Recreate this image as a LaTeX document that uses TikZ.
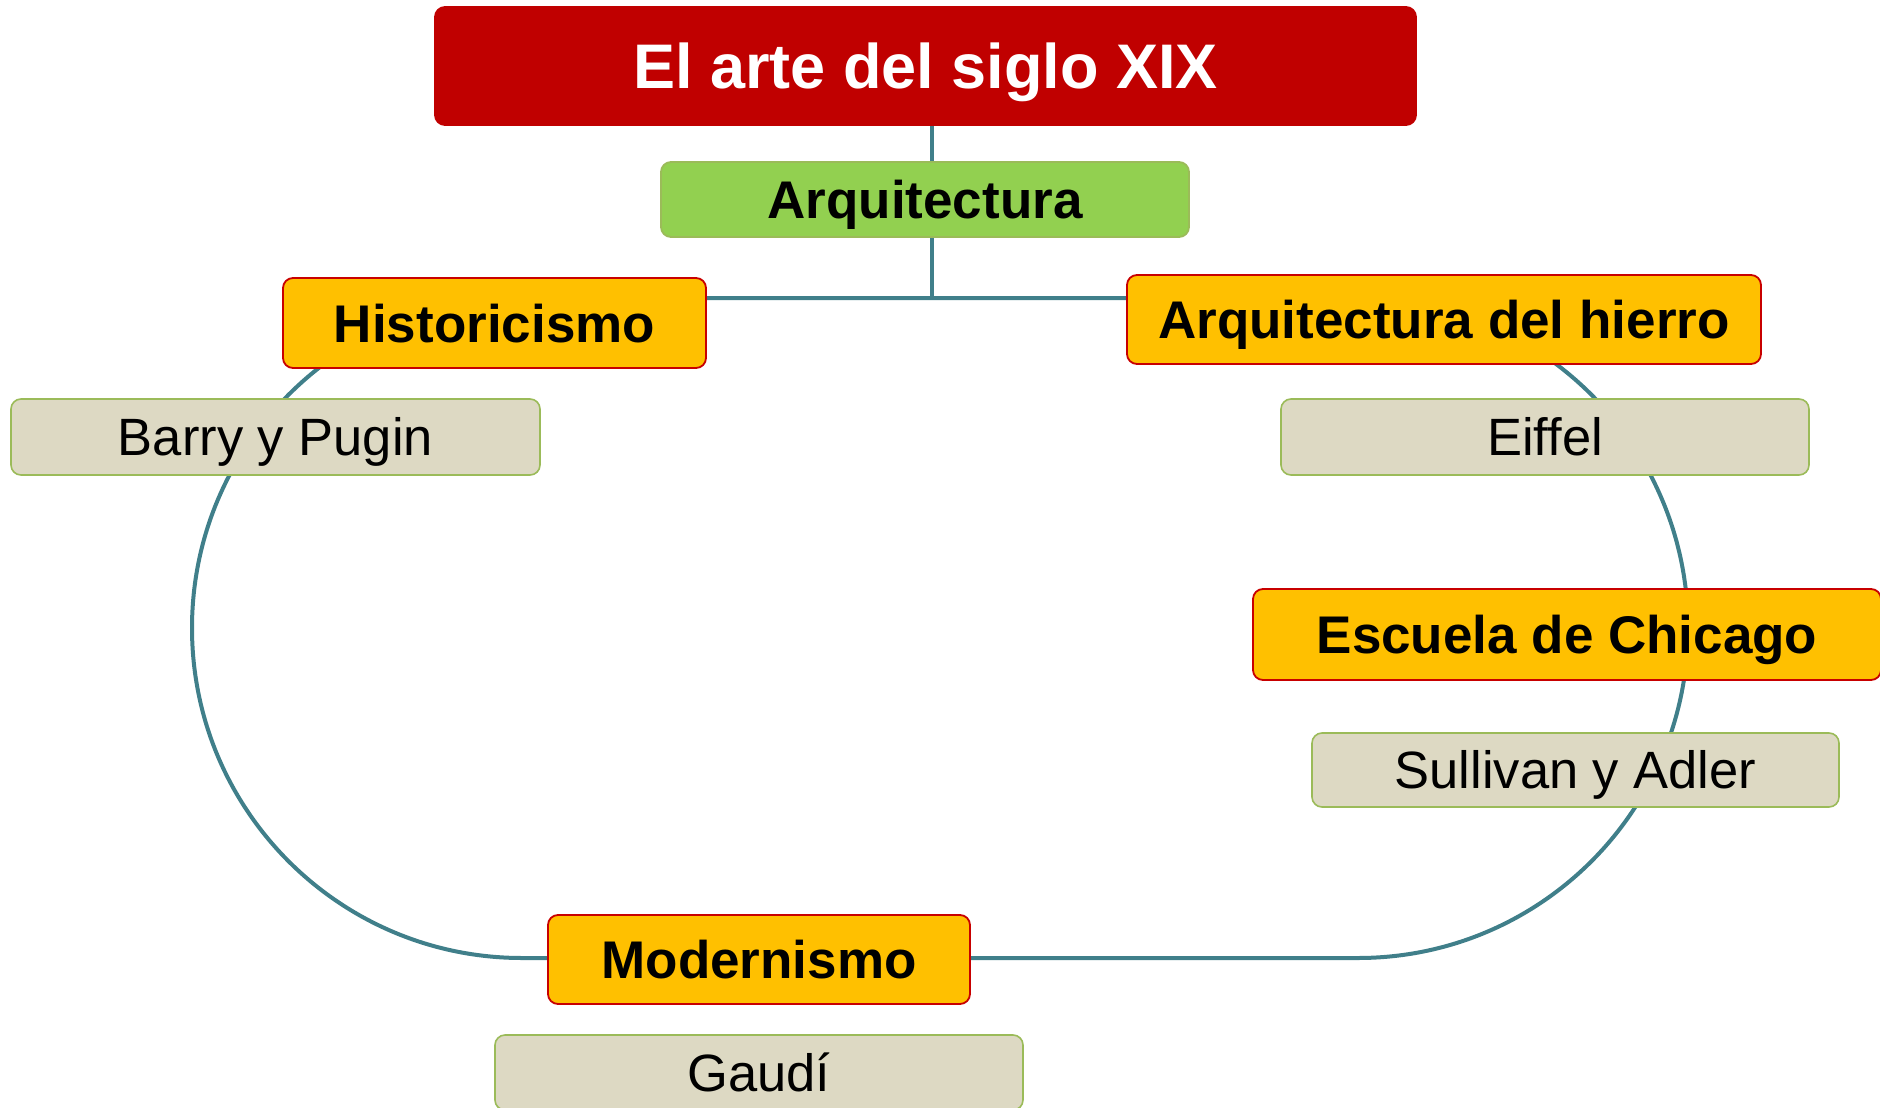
\documentclass[tikz,border=0pt]{standalone}
\usepackage{fontspec}
\setmainfont{Liberation Sans}
\definecolor{titlered}{RGB}{192,0,0}
\definecolor{loopteal}{RGB}{64,127,138}
\definecolor{greenfill}{RGB}{146,208,80}
\definecolor{greenedge}{RGB}{155,187,89}
\definecolor{orangefill}{RGB}{255,192,0}
\definecolor{redborder}{RGB}{200,0,0}
\definecolor{tanfill}{RGB}{221,217,195}
\begin{document}
\begin{tikzpicture}[x=1pt,y=-1pt,
  basebox/.style={rounded corners=10pt, line width=1.8pt, inner sep=0pt,
    text depth=0pt, align=center},
  titlebox/.style={basebox, fill=titlered, draw=titlered, text=white,
    text height=45pt, font=\fontsize{63}{70}\selectfont\bfseries},
  greenbox/.style={basebox, fill=greenfill, draw=greenedge, text height=38pt,
    font=\fontsize{53}{60}\selectfont\bfseries},
  orangebox/.style={basebox, fill=orangefill, draw=redborder, text height=38pt,
    font=\fontsize{53}{60}\selectfont\bfseries},
  tanbox/.style={basebox, fill=tanfill, draw=greenedge, line width=1.6pt, text height=37.6pt,
    font=\fontsize{52.5}{60}\selectfont},
  link/.style={draw=loopteal, line width=4pt}]
\useasboundingbox (0,0) rectangle (1880,1108);

% cycle loop (stadium shape) behind the boxes
\draw[link] (522,298) -- (1358,298)
  arc[start angle=-90, end angle=90, radius=330] -- (522,958)
  arc[start angle=90, end angle=270, radius=330] -- cycle;

\coordinate (hub) at (932,298);

\node[titlebox, minimum width=981, minimum height=118] (title) at (925.5,66) {El arte del siglo XIX};
\node[greenbox, minimum width=528, minimum height=75] (arq) at (925,199.5) {Arquitectura};

\draw[link] (title.south -| hub) -- (arq.north -| hub);
\draw[link] (arq.south -| hub) -- (hub);

\node[orangebox, minimum width=423, minimum height=90] (hist) at (494.5,323) {Historicismo};
\node[orangebox, minimum width=634, minimum height=89] (hierro) at (1444,319.5) {Arquitectura del hierro};
\node[tanbox, minimum width=529, minimum height=76] (barry) at (275.5,437) {Barry y Pugin};
\node[tanbox, minimum width=528, minimum height=76] (eiffel) at (1545,437) {Eiffel};
\node[orangebox, minimum width=628, minimum height=91] (chicago) at (1567,634.5) {Escuela de Chicago};
\node[tanbox, minimum width=527, minimum height=74] (sullivan) at (1575.5,770) {Sullivan y Adler};
\node[orangebox, minimum width=422, minimum height=89] (modern) at (759,959.5) {Modernismo};
\node[tanbox, minimum width=528, minimum height=75] (gaudi) at (759,1072.5) {Gaudí};

\draw[link] (hist.east |- hub) -- (hierro.west |- hub);
\end{tikzpicture}
\end{document}
